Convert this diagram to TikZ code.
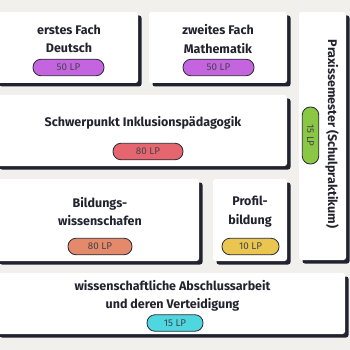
\documentclass[tikz,border=0pt]{standalone}
\usepackage{fontspec}
\setmainfont{Fira Sans}
\newfontfamily\pillfont{Fira Sans}
\usetikzlibrary{shadows}

\begin{document}
\begin{tikzpicture}[x=1pt,y=-1pt,
  modbox/.style={fill=white,rounded corners=2.5pt,inner sep=0pt,
    drop shadow={shadow xshift=3.5pt,shadow yshift=-3.5pt,fill=shadowc,opacity=1}},
  modtext/.style={text=textc,font=\bfseries\fontsize{12.5}{18.5}\selectfont,align=center,inner sep=0pt},
  pill/.style={draw=pillline,line width=0.8pt,rounded corners=8pt,minimum height=16.5pt,
    inner sep=0pt,text=textc!85,font=\pillfont\fontsize{9.8}{11}\selectfont}]
\definecolor{bgc}{HTML}{F1F0EC}
\definecolor{shadowc}{HTML}{20232F}
\definecolor{textc}{HTML}{22232E}
\definecolor{pillline}{HTML}{2A2B36}
\definecolor{fach}{HTML}{C465DF}
\definecolor{inkl}{HTML}{E5666F}
\definecolor{bildung}{HTML}{E48A6A}
\definecolor{profil}{HTML}{EAC650}
\definecolor{praxis}{HTML}{8AC744}
\definecolor{arbeit}{HTML}{4FD7DF}
\fill[bgc] (0,0) rectangle (350,350);
\useasboundingbox (0,0) rectangle (350,350);
% module boxes
\node[modbox,minimum width=142pt,minimum height=71pt] (deutsch) at (67,47.5) {};
\node[modbox,minimum width=138pt,minimum height=71pt] (mathe) at (218,47.5) {};
\node[modbox,minimum width=47pt,minimum height=248pt] (praxis) at (322.5,136) {};
\node[modbox,minimum width=291pt,minimum height=71pt] (inklusion) at (141.5,130.5) {};
\node[modbox,minimum width=203pt,minimum height=82pt] (bildungsw) at (97.5,220) {};
\node[modbox,minimum width=74pt,minimum height=82pt] (profil) at (250,220) {};
\node[modbox,minimum width=349pt,minimum height=61pt] (abschluss) at (170.5,303.5) {};
% titles
\node[modtext] (deutschtext) at (69,39) {erstes Fach\\Deutsch};
\node[modtext] (mathetext) at (218,39) {zweites Fach\\Mathematik};
\node[modtext,rotate=-90] (praxistext) at (332,134) {Praxissemester (Schulpraktikum)};
\node[modtext] (inklusiontext) at (143,123) {Schwerpunkt Inklusionsp\"adagogik};
\node[modtext] (bildungswtext) at (100,211.5) {Bildungs-\\wissenschafen};
\node[modtext] (profiltext) at (250,211.5) {Profil-\\bildung};
\node[modtext] (abschlusstext) at (172.5,296) {wissenschaftliche Abschlussarbeit\\und deren Verteidigung};
% credit points
\node[pill,fill=fach,minimum width=71pt] (deutschlp) at (68.5,67.5) {50 LP};
\node[pill,fill=fach,minimum width=71pt] (mathelp) at (218.5,67.5) {50 LP};
\node[pill,fill=praxis,minimum width=57pt,rotate=-90] (praxislp) at (310.5,135.5) {15 LP};
\node[pill,fill=inkl,minimum width=70pt] (inklusionlp) at (148,151.5) {80 LP};
\node[pill,fill=bildung,minimum width=64pt] (bildungswlp) at (100,246.5) {80 LP};
\node[pill,fill=profil,minimum width=57pt] (profillp) at (250.5,246.5) {10 LP};
\node[pill,fill=arbeit,minimum width=56pt] (abschlusslp) at (175,323) {15 LP};
\end{tikzpicture}
\end{document}
